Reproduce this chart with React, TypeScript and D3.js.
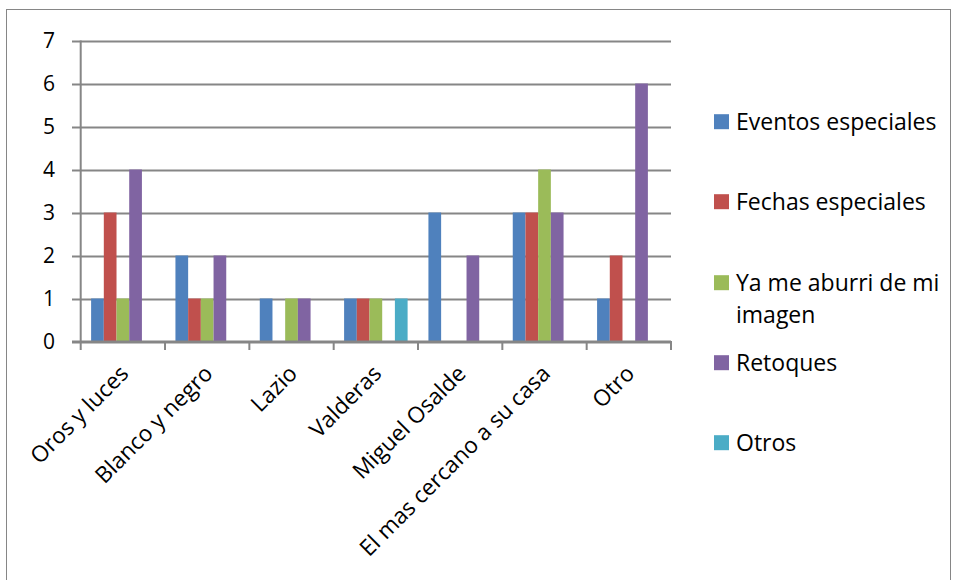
import React from "react";
import * as d3 from "d3";

const categories = ["Oros y luces", "Blanco y negro", "Lazio", "Valderas", "Miguel Osalde", "El mas cercano a su casa", "Otro"];
const seriesNames = ["Eventos especiales", "Fechas especiales", "Ya me aburri de mi imagen", "Retoques", "Otros"];
const eventos = [1, 2, 1, 1, 3, 3, 1];
const fechas = [3, 1, 0, 1, 0, 3, 2];
const aburri = [1, 1, 1, 1, 0, 4, 0];
const retoques = [4, 2, 1, 0, 2, 3, 6];
const otros = [0, 0, 0, 1, 0, 0, 0];
const yTicks = [0, 1, 2, 3, 4, 5, 6, 7];
const colors = ["#4F81BD", "#C0504D", "#9BBB59", "#8064A2", "#4BACC6"];

const seriesValues = [eventos, fechas, aburri, retoques, otros];

const W = 953, H = 580;
const FONT = "'Open Sans', sans-serif";

export default function App() {
  const x0 = d3.scaleBand<string>().domain(categories).range([80.7, 671]).paddingInner(0).paddingOuter(0);
  const x1 = d3.scaleBand<number>().domain(d3.range(seriesValues.length)).range([0, x0.bandwidth()]).paddingOuter(0.82).paddingInner(0);
  const y = d3.scaleLinear().domain([0, 7]).range([341.5, 40.5]);
  const axisColor = "#868686";
  const legendLines = [["Eventos especiales"], ["Fechas especiales"], ["Ya me aburri de mi", "imagen"], ["Retoques"], ["Otros"]];
  const legendY = [121.7, 201.7, 282.7, 362.7, 442.7];
  const boundaries = d3.range(categories.length + 1).map((i) => 80.7 + i * x0.step());
  return (
    <svg width={W} height={H} style={{ position: "absolute", left: 0, top: 0, background: "#fff" }} fontFamily={FONT}>
      <rect x={6.5} y={9.5} width={944} height={600} fill="#fff" stroke="#868686" strokeWidth={1} />
      {yTicks.map((t) => (
        <g key={t}>
          <line x1={72} x2={671} y1={Math.round(y(t)) + 0.5} y2={Math.round(y(t)) + 0.5} stroke={axisColor} strokeWidth={2} />
          <text x={55} y={y(t)} dy="0.36em" textAnchor="end" fontSize={21} fill="#000">{t}</text>
        </g>
      ))}
      {seriesValues.map((vals, si) =>
        vals.map((v, ci) =>
          v > 0 ? (
            <rect key={`${si}-${ci}`} x={(x0(categories[ci]) as number) + (x1(si) as number)} y={y(v)} width={x1.bandwidth()} height={y(0) - y(v)} fill={colors[si]} />
          ) : null
        )
      )}
      <line x1={80.7} x2={80.7} y1={40.5} y2={342} stroke={axisColor} strokeWidth={2} />
      <line x1={72} x2={671} y1={341.5} y2={341.5} stroke={axisColor} strokeWidth={2} />
      {boundaries.map((b, i) => (
        <line key={i} x1={b} x2={b} y1={341} y2={350} stroke={axisColor} strokeWidth={2} />
      ))}
      {categories.map((c) => {
        const cx = (x0(c) as number) + x0.bandwidth() / 2;
        return (
          <text key={c} transform={`translate(${cx + 7},${375}) rotate(-45)`} textAnchor="end" fontSize={22.5} fill="#000">
            {c}
          </text>
        );
      })}
      {legendLines.map((lines, i) => (
        <g key={i}>
          <rect x={714} y={legendY[i] - 7.5} width={15} height={15} fill={colors[i]} />
          {lines.map((l, li) => (
            <text key={li} x={736} y={legendY[i] + li * 32.5} dy="0.36em" fontSize={23} fill="#000">{l}</text>
          ))}
        </g>
      ))}
    </svg>
  );
}
